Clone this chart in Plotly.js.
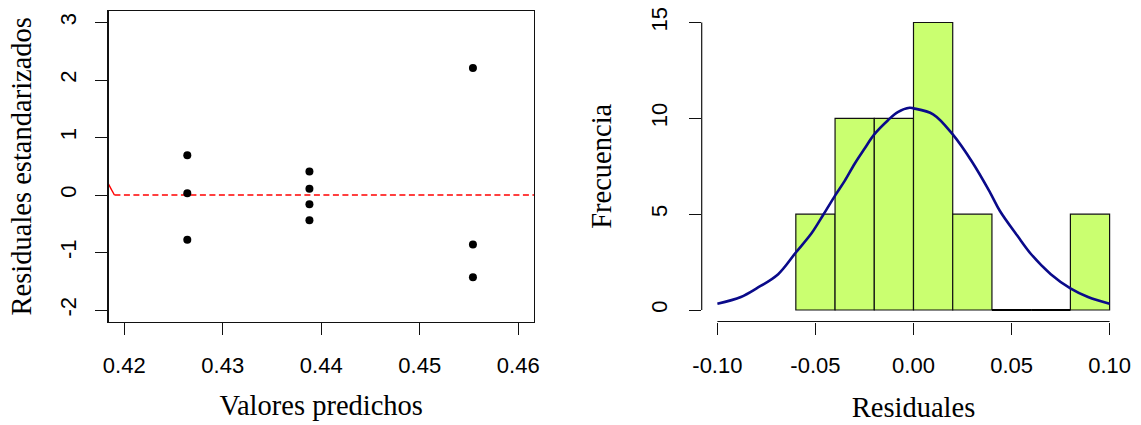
<!DOCTYPE html>
<html>
<head>
<meta charset="utf-8">
<script src="https://cdn.plot.ly/plotly-3.0.1.min.js"></script>
<style>
  html, body { margin: 0; padding: 0; background: #fff; }
  #chart { width: 1141px; height: 425px; }
</style>
</head>
<body>
<div id="chart"></div>
<script>
// ---- Left panel: standardized residuals vs predicted values ----
const predichos = [0.4264, 0.4264, 0.4264, 0.4388, 0.4388, 0.4388, 0.4388, 0.4554, 0.4554, 0.4554];
const residualesEst = [0.69, 0.03, -0.78, 0.41, 0.11, -0.16, -0.44, 2.21, -0.86, -1.43];
const refLineX = [0.4190, 0.4616];
const refLineY = [0, 0];
const refStubX = [0.4184, 0.4190];
const refStubY = [0.19, 0];
const leftXTicks = [0.42, 0.43, 0.44, 0.45, 0.46];
const leftXTickText = ['0.42', '0.43', '0.44', '0.45', '0.46'];
const leftYTicks = [-2, -1, 0, 1, 2, 3];
const leftYTickText = ['-2', '-1', '0', '1', '2', '3'];

// ---- Right panel: histogram of residuals ----
const binStart = [-0.06, -0.04, -0.02, 0.00, 0.02, 0.04, 0.06, 0.08];
const binWidth = 0.02;
const frecuencia = [5, 10, 10, 15, 5, 0, 0, 5];
const curvaX = [-0.100, -0.088, -0.080, -0.069, -0.060, -0.052, -0.046, -0.040, -0.035, -0.030, -0.025, -0.020, -0.013, -0.008, -0.002, 0.000, 0.010, 0.020, 0.030, 0.039, 0.044, 0.053, 0.060, 0.070, 0.080, 0.089, 0.100];
const curvaY = [0.33, 0.68, 1.13, 1.87, 3.00, 4.00, 4.97, 5.97, 6.75, 7.63, 8.41, 9.16, 9.90, 10.33, 10.55, 10.52, 10.21, 9.16, 7.71, 6.14, 5.18, 3.87, 2.91, 1.87, 1.13, 0.68, 0.33];
const rightXTicks = [-0.10, -0.05, 0.00, 0.05, 0.10];
const rightXTickText = ['-0.10', '-0.05', '0.00', '0.05', '0.10'];
const rightYTicks = [0, 5, 10, 15];
const rightYTickText = ['0', '5', '10', '15'];

const W = 1141, H = 425;
const tickFont = { family: 'Liberation Sans, Arial, Helvetica, sans-serif', size: 22, color: '#000' };
const titleFont = { family: 'Liberation Serif, Times New Roman, serif', size: 28.5, color: '#000' };
const lineCol = '#111';

const binMid = binStart.map(s => s + binWidth / 2);
const zeroX = [], zeroY = [];
binStart.forEach((s, i) => {
  if (frecuencia[i] === 0) { zeroX.push(s, s + binWidth, null); zeroY.push(0, 0, null); }
});

const traces = [
  { type: 'scatter', mode: 'lines', x: refStubX, y: refStubY, xaxis: 'x', yaxis: 'y',
    line: { color: '#ff0000', width: 1.4 }, hoverinfo: 'skip', showlegend: false },
  { type: 'scatter', mode: 'lines', x: refLineX, y: refLineY, xaxis: 'x', yaxis: 'y',
    line: { color: '#ff0000', width: 1.4, dash: '6px,3.5px' }, hoverinfo: 'skip', showlegend: false },
  { type: 'scatter', mode: 'markers', x: predichos, y: residualesEst, xaxis: 'x', yaxis: 'y',
    marker: { color: '#000', size: 8 }, showlegend: false },
  { type: 'bar', x: binMid, y: frecuencia, width: binWidth, xaxis: 'x2', yaxis: 'y2',
    marker: { color: '#CAFF70', line: { color: lineCol, width: 1.2 } }, showlegend: false },
  { type: 'scatter', mode: 'lines', x: zeroX, y: zeroY, xaxis: 'x2', yaxis: 'y2',
    line: { color: '#000', width: 2.2 }, hoverinfo: 'skip', showlegend: false, connectgaps: false },
  { type: 'scatter', mode: 'lines', x: curvaX, y: curvaY, xaxis: 'x2', yaxis: 'y2',
    line: { color: '#0a0a8a', width: 2.6, shape: 'spline', smoothing: 1 }, showlegend: false }
];

const yDom = [1 - 321.5 / H, 1 - 11 / H];

const layout = {
  width: W, height: H,
  margin: { l: 0, r: 0, t: 0, b: 0 },
  paper_bgcolor: '#fff', plot_bgcolor: '#fff',
  showlegend: false,
  bargap: 0,
  xaxis: {
    domain: [108.5 / W, 534 / W], range: [0.4184, 0.4616], anchor: 'y',
    tickmode: 'array', tickvals: leftXTicks, ticktext: leftXTickText,
    ticks: 'outside', ticklen: 12, tickwidth: 1, tickcolor: lineCol, ticklabelstandoff: 12,
    showline: true, mirror: true, linecolor: lineCol, linewidth: 1.2,
    showgrid: false, zeroline: false, tickfont: tickFont,
    title: { text: 'Valores predichos', font: titleFont, standoff: 18 }
  },
  yaxis: {
    domain: yDom, range: [-2.2, 3.2], anchor: 'x',
    tickmode: 'array', tickvals: leftYTicks, ticktext: leftYTickText, tickangle: -90,
    ticks: 'outside', ticklen: 12, tickwidth: 1, tickcolor: lineCol, ticklabelstandoff: 11,
    showline: true, mirror: true, linecolor: lineCol, linewidth: 1.2,
    showgrid: false, zeroline: false, tickfont: tickFont,
    title: { text: 'Residuales estandarizados', font: titleFont, standoff: 15 }
  },
  xaxis2: {
    domain: [701.7 / W, 1125.3 / W], range: [-0.108, 0.108], anchor: 'y2',
    tickmode: 'array', tickvals: rightXTicks, ticktext: rightXTickText,
    ticks: 'outside', ticklen: 12, tickwidth: 1, tickcolor: lineCol, ticklabelstandoff: 12,
    showline: false, showgrid: false, zeroline: false, tickfont: tickFont,
    title: { text: 'Residuales', font: titleFont, standoff: 20 }
  },
  yaxis2: {
    domain: yDom, range: [-0.6, 15.6], anchor: 'x2',
    tickmode: 'array', tickvals: rightYTicks, ticktext: rightYTickText, tickangle: -90,
    ticks: 'outside', ticklen: 12, tickwidth: 1, tickcolor: lineCol, ticklabelstandoff: 13,
    showline: false, showgrid: false, zeroline: false, tickfont: tickFont,
    title: { text: 'Frecuencia', font: titleFont, standoff: 26 }
  },
  shapes: [
    { type: 'line', xref: 'x2', yref: 'y2 domain',
      x0: rightXTicks[0], x1: rightXTicks[rightXTicks.length - 1], y0: 0, y1: 0,
      line: { color: lineCol, width: 1.2 } },
    { type: 'line', xref: 'x2 domain', yref: 'y2',
      x0: 0, x1: 0, y0: rightYTicks[0], y1: rightYTicks[rightYTicks.length - 1],
      line: { color: lineCol, width: 1.2 } }
  ]
};

Plotly.newPlot('chart', traces, layout, { displayModeBar: false, staticPlot: true });
</script>
</body>
</html>
